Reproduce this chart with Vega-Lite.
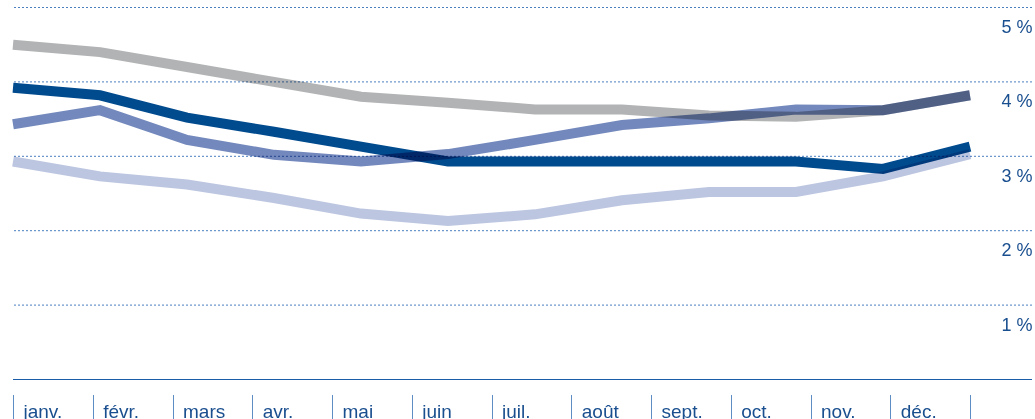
{
  "$schema": "https://vega.github.io/schema/vega-lite/v6.json",
  "width": 1019,
  "height": 372,
  "autosize": "none",
  "padding": {"left": 13, "top": 7.5, "right": 3, "bottom": 39.5},
  "config": {"view": {"stroke": null}, "font": "Liberation Sans"},
  "datasets": {
    "ticks": [{"i": 0}, {"i": 1}, {"i": 2}, {"i": 3}, {"i": 4}, {"i": 5}, {"i": 6}, {"i": 7}, {"i": 8}, {"i": 9}, {"i": 10}, {"i": 11}, {"i": 12}],
    "grid": [{"v": 1}, {"v": 2}, {"v": 3}, {"v": 4}, {"v": 5}],
    "base": [{"v": 0}],
    "rates": [
      {"mois": "janv.", "serie": "s1", "taux": 4.5},
      {"mois": "févr.", "serie": "s1", "taux": 4.4},
      {"mois": "mars", "serie": "s1", "taux": 4.2},
      {"mois": "avr.", "serie": "s1", "taux": 4.0},
      {"mois": "mai", "serie": "s1", "taux": 3.8},
      {"mois": "juin", "serie": "s1", "taux": 3.72},
      {"mois": "juil.", "serie": "s1", "taux": 3.63},
      {"mois": "août", "serie": "s1", "taux": 3.63},
      {"mois": "sept.", "serie": "s1", "taux": 3.55},
      {"mois": "oct.", "serie": "s1", "taux": 3.53},
      {"mois": "nov.", "serie": "s1", "taux": 3.62},
      {"mois": "déc.", "serie": "s1", "taux": 3.82},
      {"mois": "janv.", "serie": "s2", "taux": 3.43},
      {"mois": "févr.", "serie": "s2", "taux": 3.62},
      {"mois": "mars", "serie": "s2", "taux": 3.22},
      {"mois": "avr.", "serie": "s2", "taux": 3.02},
      {"mois": "mai", "serie": "s2", "taux": 2.93},
      {"mois": "juin", "serie": "s2", "taux": 3.03},
      {"mois": "juil.", "serie": "s2", "taux": 3.22},
      {"mois": "août", "serie": "s2", "taux": 3.42},
      {"mois": "sept.", "serie": "s2", "taux": 3.51},
      {"mois": "oct.", "serie": "s2", "taux": 3.63},
      {"mois": "nov.", "serie": "s2", "taux": 3.62},
      {"mois": "déc.", "serie": "s2", "taux": 3.82},
      {"mois": "janv.", "serie": "s3", "taux": 3.92},
      {"mois": "févr.", "serie": "s3", "taux": 3.82},
      {"mois": "mars", "serie": "s3", "taux": 3.52},
      {"mois": "avr.", "serie": "s3", "taux": 3.33},
      {"mois": "mai", "serie": "s3", "taux": 3.13},
      {"mois": "juin", "serie": "s3", "taux": 2.93},
      {"mois": "juil.", "serie": "s3", "taux": 2.93},
      {"mois": "août", "serie": "s3", "taux": 2.93},
      {"mois": "sept.", "serie": "s3", "taux": 2.93},
      {"mois": "oct.", "serie": "s3", "taux": 2.93},
      {"mois": "nov.", "serie": "s3", "taux": 2.83},
      {"mois": "déc.", "serie": "s3", "taux": 3.13},
      {"mois": "janv.", "serie": "s4", "taux": 2.93},
      {"mois": "févr.", "serie": "s4", "taux": 2.73},
      {"mois": "mars", "serie": "s4", "taux": 2.62},
      {"mois": "avr.", "serie": "s4", "taux": 2.44},
      {"mois": "mai", "serie": "s4", "taux": 2.23},
      {"mois": "juin", "serie": "s4", "taux": 2.13},
      {"mois": "juil.", "serie": "s4", "taux": 2.22},
      {"mois": "août", "serie": "s4", "taux": 2.41},
      {"mois": "sept.", "serie": "s4", "taux": 2.52},
      {"mois": "oct.", "serie": "s4", "taux": 2.52},
      {"mois": "nov.", "serie": "s4", "taux": 2.73},
      {"mois": "déc.", "serie": "s4", "taux": 3.03}
    ]
  },
  "layer": [
    {
      "data": {"name": "grid"},
      "mark": {"type": "rule", "color": "#4a7fc0", "strokeWidth": 1, "strokeDash": [2, 2]},
      "encoding": {
        "y": {
          "field": "v",
          "type": "quantitative",
          "scale": {"domain": [0, 5], "nice": false, "zero": true},
          "axis": {
            "orient": "right",
            "title": null,
            "domain": false,
            "ticks": false,
            "tickSize": 0,
            "values": [1, 2, 3, 4, 5],
            "grid": false,
            "labelExpr": "datum.value + ' %'",
            "labelAlign": "right",
            "labelBaseline": "alphabetic",
            "labelOffset": 25,
            "labelPadding": 0,
            "labelFontSize": 18,
            "labelColor": "#1a4f8f",
            "labelFont": "Liberation Sans",
            "labelBound": false,
            "labelFlush": false,
            "labelOverlap": false
          }
        }
      }
    },
    {
      "data": {"name": "base"},
      "mark": {"type": "rule", "color": "#1a5ca8", "strokeWidth": 1.2},
      "encoding": {
        "y": {"field": "v", "type": "quantitative"}
      }
    },
    {
      "data": {"name": "ticks"},
      "mark": {"type": "rule", "opacity": 0},
      "encoding": {
        "x": {
          "field": "i",
          "type": "quantitative",
          "scale": {"domain": [0, 12], "range": [0, 957], "nice": false, "zero": false},
          "axis": {
            "orient": "bottom",
            "offset": 15,
            "title": null,
            "domain": false,
            "grid": false,
            "ticks": true,
            "tickSize": 30,
            "tickWidth": 1,
            "tickColor": "#5e8dc6",
            "values": [0, 1, 2, 3, 4, 5, 6, 7, 8, 9, 10, 11, 12],
            "labelExpr": "['janv.','févr.','mars','avr.','mai','juin','juil.','août','sept.','oct.','nov.','déc.',''][datum.value]",
            "labelAlign": "left",
            "labelBaseline": "alphabetic",
            "labelOffset": 10,
            "labelPadding": -7,
            "labelFlush": false,
            "labelOverlap": false,
            "labelBound": false,
            "labelFontSize": 19,
            "labelColor": "#1a4f8f",
            "labelFont": "Liberation Sans"
          }
        }
      }
    },
    {
      "data": {"name": "rates"},
      "mark": {"type": "line", "strokeWidth": 10, "strokeCap": "butt", "strokeJoin": "miter", "blend": "multiply"},
      "encoding": {
        "x": {
          "field": "mois",
          "type": "ordinal",
          "sort": ["janv.", "févr.", "mars", "avr.", "mai", "juin", "juil.", "août", "sept.", "oct.", "nov.", "déc."],
          "scale": {"type": "point", "padding": 0, "range": [0, 957]},
          "axis": null
        },
        "y": {"field": "taux", "type": "quantitative"},
        "color": {
          "field": "serie",
          "type": "nominal",
          "scale": {"domain": ["s1", "s2", "s3", "s4"], "range": ["#b2b3b4", "#7388bc", "#004a8e", "#bcc6e0"]},
          "legend": null
        }
      }
    }
  ],
  "resolve": {"scale": {"x": "independent"}, "axis": {"x": "independent"}}
}
